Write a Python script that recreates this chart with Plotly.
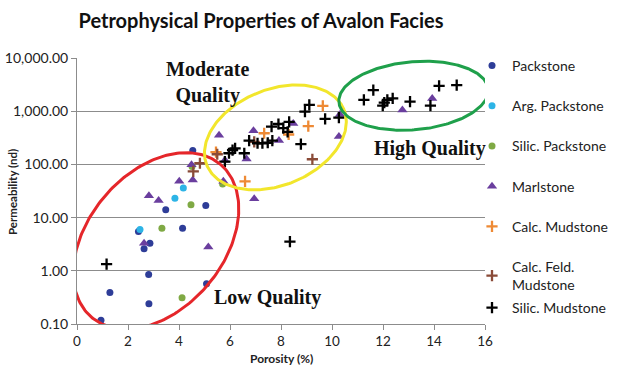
import numpy as np
import plotly.graph_objects as go

# ---------------- data ----------------
packstone_x = [0.94, 1.29, 2.82, 2.81, 5.08, 2.86, 2.63, 2.41, 4.14, 3.48, 5.05, 4.54]
packstone_y = [0.117, 0.39, 0.24, 0.85, 0.57, 3.3, 2.6, 5.5, 6.3, 14, 16.8, 182]

arg_packstone_x = [2.47, 3.84, 4.17]
arg_packstone_y = [6.0, 23, 36]

silic_packstone_x = [3.33, 4.47, 4.12, 4.51, 5.71]
silic_packstone_y = [6.3, 17.4, 0.31, 91, 43]

marlstone_x = [2.82, 3.2, 2.63, 5.15, 4.01, 4.54, 4.49, 5.57, 5.74, 5.8, 6.65, 6.92,
               6.95, 7.92, 8.48, 10.31, 10.27, 12.76, 13.93]
marlstone_y = [25.8, 21, 3.3, 2.8, 48, 51, 98, 355, 48, 120, 126, 431,
               22.6, 280, 590, 870, 335, 1050, 1740]

calc_mudstone_x = [5.45, 6.59, 7.34, 8.3, 9.07, 9.64]
calc_mudstone_y = [170, 48, 385, 365, 526, 1255]

calc_feld_mudstone_x = [4.56, 4.82, 5.5, 6.95, 9.23]
calc_feld_mudstone_y = [74, 105, 155, 265, 125]

silic_mudstone_x = [1.16, 8.35, 5.8, 5.96, 6.2, 6.1, 6.56, 6.75, 7.08, 7.27, 7.48, 7.66,
                    7.63, 7.9, 8.09, 8.26, 8.32, 8.78, 8.94, 9.11, 9.73, 10.27,
                    11.25, 11.62, 11.99, 12.17, 12.38, 13.06, 13.86, 14.2, 14.89, 12.05]
silic_mudstone_y = [1.34, 3.55, 113, 162, 200, 185, 162, 280, 250, 250, 255, 280,
                    512, 575, 480, 410, 630, 240, 980, 1320, 716, 760,
                    1630, 2500, 1270, 1630, 1740, 1510, 1270, 3000, 3100, 1450]

x_tickvals = [0, 2, 4, 6, 8, 10, 12, 14, 16]
y_tickvals = [0.1, 1, 10, 100, 1000, 10000]
y_ticktext = ["0.10", "1.00", "10.00", "100.00", "1,000.00", "10,000.00"]

# ---------------- layout constants ----------------
W, H = 640, 368
ML, MR, MT, MB = 77, 155, 58, 44
X_MIN, X_MAX = 0, 16
LOG_MIN, LOG_MAX = -1, 4
PW, PH = W - ML - MR, H - MT - MB
PX_PER_X = PW / (X_MAX - X_MIN)
PX_PER_DEC = PH / (LOG_MAX - LOG_MIN)

SANS = "Lato, Open Sans, sans-serif"
TICK_FONT = dict(family=SANS, size=14, color="#222222")
XTICK_FONT = dict(family=SANS, size=13.5, color="#222222")
SERIF = "Liberation Serif, Times New Roman, serif"


def ellipse(cx, cy, a_px, b_px, deg, n=240):
    """Rotated ellipse defined by centre (data units) and semi-axes in screen pixels."""
    t = np.linspace(0, 2 * np.pi, n)
    th = np.radians(deg)
    dx = a_px * np.cos(t) * np.cos(th) - b_px * np.sin(t) * np.sin(th)
    dy = a_px * np.cos(t) * np.sin(th) + b_px * np.sin(t) * np.cos(th)
    return cx + dx / PX_PER_X, 10 ** (np.log10(cy) + dy / PX_PER_DEC)


def px_x(px):
    return (px - ML) / PX_PER_X


def px_logy(py):
    return LOG_MAX - (py - MT) / PX_PER_DEC


def paper_x(px):
    return (px - ML) / PW


def paper_y(py):
    return (MT + PH - py) / PH


fig = go.Figure()

series = [
    ("Packstone", packstone_x, packstone_y, dict(symbol="circle", size=7, color="#2E3D98")),
    ("Arg. Packstone", arg_packstone_x, arg_packstone_y, dict(symbol="circle", size=7, color="#2DB4E6")),
    ("Silic. Packstone", silic_packstone_x, silic_packstone_y, dict(symbol="circle", size=7, color="#7FA944")),
    ("Marlstone", marlstone_x, marlstone_y, dict(symbol="triangle-up", size=9, color="#6A3E9E")),
    ("Calc. Mudstone", calc_mudstone_x, calc_mudstone_y,
     dict(symbol="cross-thin", size=8, color="#EE8A35", line=dict(width=2.3, color="#EE8A35"))),
    ("Calc. Feld.<br>Mudstone", calc_feld_mudstone_x, calc_feld_mudstone_y,
     dict(symbol="cross-thin", size=8, color="#8A4B38", line=dict(width=2.3, color="#8A4B38"))),
    ("Silic. Mudstone", silic_mudstone_x, silic_mudstone_y,
     dict(symbol="cross-thin", size=8, color="#000000", line=dict(width=2.3, color="#000000"))),
]

for i, (name, xs, ys, mk) in enumerate(series):
    fig.add_trace(go.Scatter(
        x=xs, y=ys, mode="markers", name=name, marker=mk,
        legendgroup=f"g{i}", cliponaxis=False,
        legend="legend2" if i == len(series) - 1 else "legend",
    ))

# quality ellipses
for cx, cy, a, b, deg, col in [
    (3.1, 10 ** 0.563, 100, 68, 50, "#E5262A"),
    (7.78, 10 ** 2.507, 74, 48, 22, "#F2E62C"),
    (13.2, 10 ** 3.29, 75, 34, 5, "#1FA04B"),
]:
    ex, ey = ellipse(cx, cy, a, b, deg)
    fig.add_trace(go.Scatter(x=ex, y=ey, mode="lines", line=dict(color=col, width=3),
                             showlegend=False, hoverinfo="skip", cliponaxis=False))

annotations = [
    dict(text="<b>Moderate<br>Quality</b>", x=px_x(207), y=px_logy(82),
         xref="x", yref="y", showarrow=False, font=dict(family=SERIF, size=20, color="#111111")),
    dict(text="<b>High Quality</b>", x=px_x(430), y=px_logy(148),
         xref="x", yref="y", showarrow=False, font=dict(family=SERIF, size=20, color="#111111")),
    dict(text="<b>Low Quality</b>", x=px_x(267), y=px_logy(297),
         xref="x", yref="y", showarrow=False, font=dict(family=SERIF, size=20, color="#111111")),
    dict(text="<b>Permeability (nd)</b>", x=paper_x(12), y=paper_y(192), xref="paper", yref="paper",
         showarrow=False, textangle=-90, xanchor="center", yanchor="middle",
         font=dict(family=SANS, size=11.5, color="#222222")),
    dict(text="<b>Porosity (%)</b>", x=paper_x(281), y=paper_y(358), xref="paper", yref="paper",
         showarrow=False, xanchor="center", yanchor="middle",
         font=dict(family=SANS, size=12, color="#222222")),
]

legend_common = dict(xanchor="left", yanchor="top", bgcolor="rgba(0,0,0,0)", maxheight=340,
                     font=dict(family=SANS, size=14, color="#222222"))

fig.update_layout(
    width=W, height=H,
    margin=dict(l=ML, r=MR, t=MT, b=MB, pad=0, autoexpand=False),
    paper_bgcolor="white", plot_bgcolor="white",
    title=dict(text="<b>Petrophysical Properties of Avalon Facies</b>",
               x=261 / W, xanchor="center", xref="container",
               y=1 - 21 / H, yanchor="middle", yref="container",
               font=dict(family=SANS, size=20, color="#111111")),
    showlegend=True,
    legend=dict(x=paper_x(472), y=paper_y(50), tracegroupgap=19, **legend_common),
    legend2=dict(x=paper_x(472), y=paper_y(292), **legend_common),
    annotations=annotations,
    xaxis=dict(range=[X_MIN, X_MAX], tickvals=x_tickvals, showgrid=False, zeroline=False,
               showline=True, linecolor="#8C8C8C", linewidth=1, automargin=False,
               ticks="outside", ticklen=5, tickcolor="#8C8C8C", tickfont=XTICK_FONT),
    yaxis=dict(type="log", range=[LOG_MIN, LOG_MAX], tickvals=y_tickvals, ticktext=y_ticktext,
               showgrid=True, gridcolor="#8C8C8C", gridwidth=1.3, zeroline=False,
               showline=True, linecolor="#8C8C8C", linewidth=1, automargin=False,
               ticks="outside", ticklen=5, tickcolor="#8C8C8C", tickfont=TICK_FONT),
)

fig.write_html("out.html", config={"displayModeBar": False},
               post_script="document.body.style.margin='0';")
